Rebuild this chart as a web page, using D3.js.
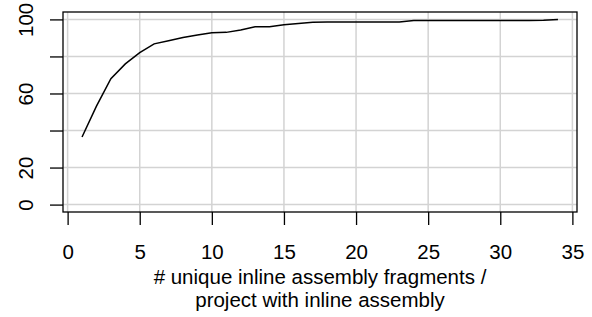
<!DOCTYPE html>
<html>
<head>
<meta charset="utf-8">
<script src="https://cdn.jsdelivr.net/npm/d3@7"></script>
<style>
  body { margin: 0; background: #fff; }
  svg text { font-family: "Liberation Sans", Arial, sans-serif; fill: #000; }
</style>
</head>
<body>
<svg id="chart"></svg>
<script>
// fragments per project (x) and cumulative % of projects (y)
const fragments = d3.range(1, 35);
const cumulative = [36.5, 53.2, 68.0, 76.0, 82.1, 86.8, 88.5, 90.2, 91.6, 92.8,
  93.0, 94.3, 96.0, 96.0, 97.1, 97.8, 98.5, 98.6, 98.6, 98.6,
  98.6, 98.6, 98.6, 99.4, 99.4, 99.4, 99.4, 99.4, 99.4, 99.4,
  99.4, 99.4, 99.5, 100];
const xTicks = [0, 5, 10, 15, 20, 25, 30, 35];
const yTicks = [0, 20, 40, 60, 80, 100];
const yLabels = [0, 20, 60, 100];   // R drops the overlapping ones
const xTitle = ["# unique inline assembly fragments /", "project with inline assembly"];

const W = 592, H = 317;
const box = { left: 63, right: 577, top: 12, bottom: 212 };
const FS = '20.5px';

const svg = d3.select('#chart')
    .attr('width', W)
    .attr('height', H);

// R-style 4% padding on the ranges
const x = d3.scaleLinear().domain([-0.32, 35.32]).range([box.left, box.right]);
const y = d3.scaleLinear().domain([-4, 104]).range([box.bottom, box.top]);

// grid
svg.append('g').selectAll('line.v')
    .data(xTicks).join('line')
    .attr('x1', d => x(d)).attr('x2', d => x(d))
    .attr('y1', box.top).attr('y2', box.bottom)
    .style('stroke', '#d3d3d3').style('stroke-width', 1.5);
svg.append('g').selectAll('line.h')
    .data(yTicks).join('line')
    .attr('x1', box.left).attr('x2', box.right)
    .attr('y1', d => y(d)).attr('y2', d => y(d))
    .style('stroke', '#d3d3d3').style('stroke-width', 1.5);

// the curve
const line = d3.line()
    .x((d, i) => x(fragments[i]))
    .y(d => y(d));
svg.append('path')
    .datum(cumulative)
    .attr('d', line)
    .style('fill', 'none')
    .style('stroke', '#000')
    .style('stroke-width', 1.5);

// box
svg.append('rect')
    .attr('x', box.left).attr('y', box.top)
    .attr('width', box.right - box.left).attr('height', box.bottom - box.top)
    .style('fill', 'none').style('stroke', '#000').style('stroke-width', 1.3);

// x axis
const xAxis = svg.append('g')
    .attr('transform', 'translate(0,' + box.bottom + ')')
    .call(d3.axisBottom(x).tickValues(xTicks).tickSize(13).tickSizeOuter(0));
xAxis.select('.domain').remove();
xAxis.selectAll('line').style('stroke', '#000').style('stroke-width', 1.3);
xAxis.selectAll('text')
    .style('font-size', FS).attr('fill', '#000')
    .attr('y', 47).attr('dy', 0);

// y axis
const yAxis = svg.append('g')
    .attr('transform', 'translate(' + box.left + ',0)')
    .call(d3.axisLeft(y).tickValues(yTicks).tickSize(13).tickFormat(d => yLabels.includes(d) ? d : '').tickSizeOuter(0));
yAxis.select('.domain').remove();
yAxis.selectAll('line').style('stroke', '#000').style('stroke-width', 1.3);
yAxis.selectAll('text')
    .style('font-size', FS).attr('fill', '#000')
    .attr('text-anchor', 'middle')
    .attr('x', 0).attr('y', 0).attr('dy', 0)
    .attr('transform', 'translate(-30,0) rotate(-90)');

// x title
svg.append('g').selectAll('text')
    .data(xTitle).join('text')
    .attr('x', x(17.5))
    .attr('y', (d, i) => 283.5 + i * 23.5)
    .attr('text-anchor', 'middle')
    .style('font-size', FS)
    .text(d => d);
</script>
</body>
</html>
